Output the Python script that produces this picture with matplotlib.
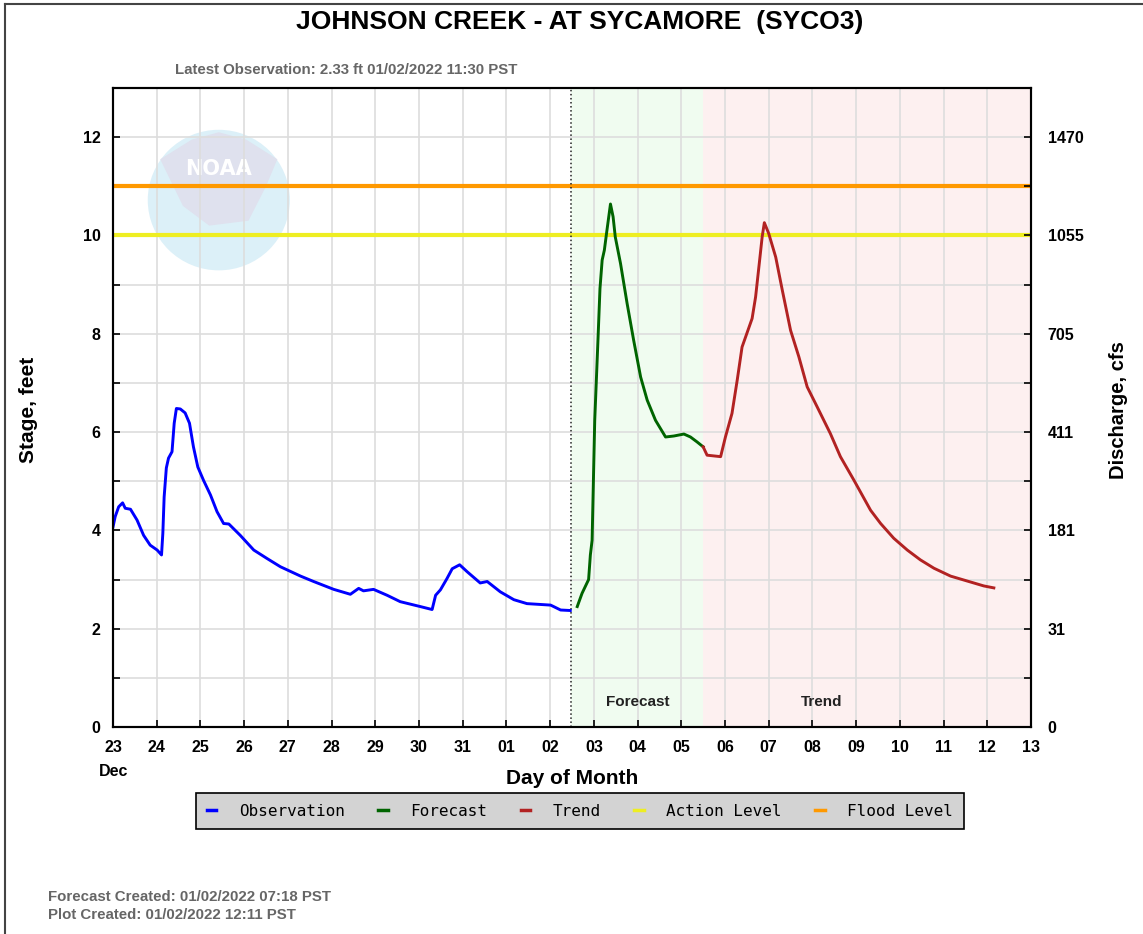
import matplotlib
matplotlib.use("Agg")
import matplotlib.pyplot as plt
from matplotlib.patches import Ellipse, Polygon
from matplotlib.lines import Line2D

plt.rcParams['font.family'] = ['Liberation Sans', 'DejaVu Sans']

# x = days since Dec 23 00:00 PST
day_labels = ['23', '24', '25', '26', '27', '28', '29', '30', '31',
              '01', '02', '03', '04', '05', '06', '07', '08', '09',
              '10', '11', '12', '13']

obs_day = [0.0, 0.05, 0.13, 0.22, 0.28, 0.40, 0.55, 0.70, 0.85, 1.01, 1.11,
           1.14, 1.17, 1.22, 1.27, 1.35, 1.40, 1.45, 1.54, 1.65, 1.75, 1.84,
           1.94, 2.07, 2.23, 2.38, 2.53, 2.65, 2.91, 3.22, 3.52, 3.83, 4.29,
           4.59, 5.05, 5.43, 5.62, 5.73, 5.96, 6.27, 6.57, 7.03, 7.30, 7.38,
           7.49, 7.64, 7.76, 7.93, 8.10, 8.40, 8.56, 8.86, 9.17, 9.47, 10.01,
           10.08, 10.24, 10.46]
obs_stage = [4.07, 4.28, 4.48, 4.56, 4.45, 4.43, 4.21, 3.90, 3.70, 3.60, 3.50,
             3.94, 4.68, 5.27, 5.47, 5.60, 6.18, 6.48, 6.47, 6.39, 6.18, 5.70,
             5.29, 5.02, 4.72, 4.38, 4.14, 4.13, 3.90, 3.60, 3.43, 3.26, 3.07,
             2.96, 2.80, 2.70, 2.82, 2.77, 2.80, 2.68, 2.55, 2.45, 2.39, 2.68,
             2.79, 3.02, 3.22, 3.30, 3.16, 2.93, 2.96, 2.75, 2.59, 2.51, 2.48,
             2.45, 2.38, 2.37]

fcst_day = [10.62, 10.73, 10.88, 10.92, 10.96, 11.00, 11.02, 11.06, 11.10,
            11.14, 11.19, 11.24, 11.30, 11.38, 11.44, 11.49, 11.61, 11.76,
            11.91, 12.07, 12.22, 12.41, 12.64, 12.83, 13.06, 13.21, 13.36, 13.50]
fcst_stage = [2.45, 2.72, 3.00, 3.50, 3.80, 5.43, 6.24, 7.12, 8.01, 8.92, 9.50,
              9.70, 10.11, 10.64, 10.38, 9.97, 9.43, 8.62, 7.87, 7.12, 6.65,
              6.24, 5.90, 5.92, 5.96, 5.90, 5.80, 5.70]

trend_day = [13.50, 13.59, 13.90, 14.01, 14.16, 14.28, 14.39, 14.62, 14.70,
             14.80, 14.85, 14.90, 15.00, 15.16, 15.31, 15.50, 15.69, 15.88,
             16.11, 16.41, 16.64, 16.95, 17.33, 17.56, 17.86, 18.17, 18.47,
             18.78, 19.16, 19.54, 19.92, 20.15]
trend_stage = [5.70, 5.53, 5.50, 5.90, 6.38, 7.06, 7.73, 8.31, 8.75, 9.56, 9.97,
               10.26, 10.04, 9.56, 8.89, 8.07, 7.53, 6.92, 6.51, 5.97, 5.50,
               5.02, 4.41, 4.14, 3.84, 3.60, 3.40, 3.23, 3.07, 2.97, 2.87, 2.83]

action_level = 10
flood_level = 11
latest_obs_day = 10.47
forecast_end_day = 13.5

stage_ticks = list(range(0, 14))
flow_labels = {0: '0', 2: '31', 4: '181', 6: '411', 8: '705', 10: '1055', 12: '1470'}

fig = plt.figure(figsize=(11.43, 9.34), dpi=100)
ax = fig.add_axes([113 / 1143, 1 - 727 / 934, 918 / 1143, 639 / 934])

ax.set_xlim(0, 21)
ax.set_ylim(0, 13)

# shaded forecast / trend periods
ax.axvspan(latest_obs_day, forecast_end_day, color='#f0fcf0', zorder=0.1, lw=0)
ax.axvspan(forecast_end_day, 21, color='#fdf0f0', zorder=0.1, lw=0)

# faded NOAA logo
ax.add_patch(Ellipse((2.42, 10.72), 3.25, 2.86, color='#dcf0f8', zorder=0.2, lw=0))
ax.add_patch(Polygon([(1.08, 11.55), (1.8, 11.95), (2.42, 12.1), (3.05, 11.95),
                      (3.76, 11.55), (3.5, 11.0), (3.1, 10.3), (2.2, 10.2),
                      (1.6, 10.6)], closed=True, color='#dfe1ee', zorder=0.25, lw=0))
ax.text(2.42, 11.35, 'NOAA', color='white', fontsize=15, fontweight='bold',
        ha='center', va='center', zorder=0.3, family='DejaVu Sans')

ax.grid(True, color='#dddddd', linewidth=1.2, zorder=0.5)
ax.set_axisbelow(True)

ax.axhline(flood_level, color='#ff9900', lw=3, zorder=2)
ax.axhline(action_level, color='#eeee22', lw=3, zorder=2)
ax.axvline(latest_obs_day, color='#222222', lw=1.1, ls=':', zorder=2.5)

ax.plot(obs_day, obs_stage, color='#0000ff', lw=2.1, zorder=3)
ax.plot(fcst_day, fcst_stage, color='#006400', lw=2.1, zorder=3)
ax.plot(trend_day, trend_stage, color='#b22222', lw=2.1, zorder=3)

ax.text(12.0, 0.42, 'Forecast', fontsize=11, fontweight='bold', ha='center', color='#222222')
ax.text(16.2, 0.42, 'Trend', fontsize=11, fontweight='bold', ha='center', color='#222222')

ax.set_xticks(range(0, 22))
ax.set_xticklabels(day_labels)
ax.set_yticks(stage_ticks)
ax.set_yticklabels([str(v) if v % 2 == 0 else '' for v in stage_ticks])
for lab in ax.get_xticklabels() + ax.get_yticklabels():
    lab.set_fontweight('bold')
ax.tick_params(direction='in', length=5, width=1.2, labelsize=11.5)
ax.tick_params(axis='x', pad=9)
ax.tick_params(axis='y', pad=9)
for s in ax.spines.values():
    s.set_linewidth(1.5)

ax2 = ax.twinx()
ax2.set_ylim(0, 13)
ax2.set_yticks(stage_ticks)
ax2.set_yticklabels([flow_labels.get(v, '') for v in stage_ticks])
for lab in ax2.get_yticklabels():
    lab.set_fontweight('bold')
ax2.tick_params(direction='in', length=5, width=1.2, labelsize=11.5, pad=12)
for s in ax2.spines.values():
    s.set_linewidth(1.5)

fig.text(28 / 1143, 1 - 410 / 934, 'Stage, feet', fontsize=15, fontweight='bold',
         rotation=90, ha='center', va='center')
fig.text(1118 / 1143, 1 - 410 / 934, 'Discharge, cfs', fontsize=14.5, fontweight='bold',
         rotation=90, ha='center', va='center')
fig.text(572 / 1143, 1 - 778 / 934, 'Day of Month', fontsize=15, fontweight='bold',
         ha='center', va='center')
fig.text(114 / 1143, 1 - 772 / 934, 'Dec', fontsize=11.5, fontweight='bold',
         ha='center', va='center')

fig.text(580 / 1143, 1 - 22 / 934, 'JOHNSON CREEK - AT SYCAMORE  (SYCO3)', fontsize=19,
         fontweight='bold', ha='center', va='center')
fig.text(346 / 1143, 1 - 70 / 934, 'Latest Observation: 2.33 ft 01/02/2022 11:30 PST',
         fontsize=10.8, fontweight='bold', color='#666666', ha='center', va='center')
fig.text(48 / 1143, 1 - 897 / 934, 'Forecast Created: 01/02/2022 07:18 PST',
         fontsize=10.8, fontweight='bold', color='#666666', ha='left', va='center')
fig.text(48 / 1143, 1 - 915 / 934, 'Plot Created: 01/02/2022 12:11 PST',
         fontsize=10.8, fontweight='bold', color='#666666', ha='left', va='center')

handles = [Line2D([], [], color='#0000ff', lw=2.5),
           Line2D([], [], color='#006400', lw=2.5),
           Line2D([], [], color='#b22222', lw=2.5),
           Line2D([], [], color='#eeee22', lw=2.5),
           Line2D([], [], color='#ff9900', lw=2.5)]
names = ['Observation', 'Forecast', 'Trend', 'Action Level', 'Flood Level']
leg = fig.legend(handles, names, loc='center', bbox_to_anchor=(580 / 1143, 1 - 811 / 934),
                 ncol=5, fancybox=False, framealpha=1, facecolor='#d3d3d3',
                 edgecolor='black', handlelength=0.6, handletextpad=1.4,
                 columnspacing=2.1, borderpad=0.65, borderaxespad=0,
                 prop={'family': 'DejaVu Sans Mono', 'size': 11.5})
leg.get_frame().set_linewidth(1.2)

# outer frame
fig.add_artist(Line2D([5 / 1143, 5 / 1143], [0, 1 - 4 / 934], color='#444444', lw=1.5))
fig.add_artist(Line2D([5 / 1143, 1], [1 - 4 / 934, 1 - 4 / 934], color='#444444', lw=1.5))

fig.savefig('out.png', dpi=100)
